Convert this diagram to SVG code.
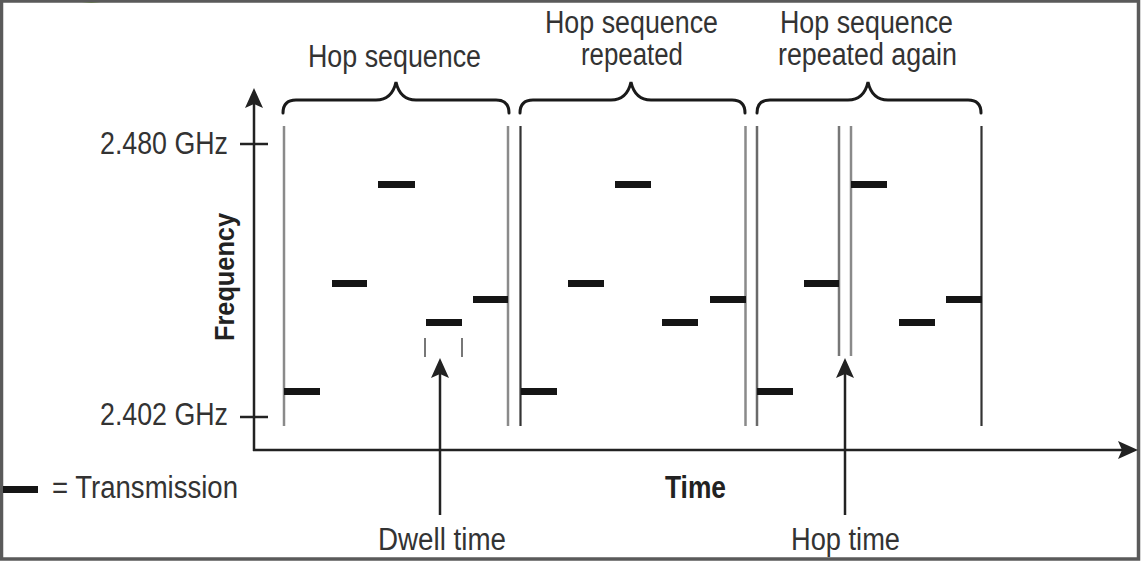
<svg xmlns="http://www.w3.org/2000/svg" width="1141" height="562" viewBox="0 0 1141 562">
<style>
.t{font-family:"Liberation Sans",Arial,sans-serif;font-size:31px;fill:#333}
.b{font-weight:bold;fill:#222}
.bar{fill:#151515}
.brace{fill:none;stroke:#1a1a1a;stroke-width:3;stroke-linecap:round}
.ax{stroke:#222;stroke-width:2.5;fill:none}
.g{stroke:#8a8a8a;stroke-width:2.5}
.d{stroke:#333;stroke-width:2.2}
.dash{stroke:#777;stroke-width:2}
</style>
<defs>
<marker id="ah" viewBox="0 0 20 18" refX="10" refY="9" markerWidth="20" markerHeight="18" markerUnits="userSpaceOnUse" orient="auto">
<path d="M0,0 L20,9 L0,18 L4,9 z" fill="#222"/>
</marker>
</defs>
<rect x="0" y="0" width="1141" height="562" fill="#fff"/>
<path d="M74,0 Q91,6 109,0 z" fill="#8dc63f"/>
<rect x="1.5" y="1" width="1137" height="558" fill="none" stroke="#5a5a5a" stroke-width="3.5"/>

<g id="connectors">
<line class="ax" x1="254" y1="451" x2="254" y2="98" marker-end="url(#ah)"/>
<line class="ax" x1="253" y1="450" x2="1128" y2="450" marker-end="url(#ah)"/>
<line class="ax" x1="240" y1="144" x2="268" y2="144"/>
<line class="ax" x1="240" y1="417" x2="268" y2="417"/>
<line class="ax" x1="440" y1="515" x2="440" y2="368" marker-end="url(#ah)"/>
<line class="ax" x1="845" y1="515" x2="845" y2="368" marker-end="url(#ah)"/>
</g>

<g id="axis-labels">
<text class="t" x="100" y="154" textLength="128" lengthAdjust="spacingAndGlyphs">2.480 GHz</text>
<text class="t" x="100" y="425" textLength="128" lengthAdjust="spacingAndGlyphs">2.402 GHz</text>
<text class="t b" style="font-size:27px" transform="translate(234,341) rotate(-90)" textLength="128" lengthAdjust="spacingAndGlyphs">Frequency</text>
<text class="t b" x="665" y="498" textLength="61" lengthAdjust="spacingAndGlyphs">Time</text>
</g>

<g id="legend">
<rect class="bar" x="3" y="486" width="35" height="7"/>
<text class="t" x="52" y="498" textLength="186" lengthAdjust="spacingAndGlyphs">= Transmission</text>
</g>

<g id="hop-sequence-1">
<text class="t" x="308" y="67" textLength="173" lengthAdjust="spacingAndGlyphs">Hop sequence</text>
<path class="brace" d="M283,113 Q283,100 296,100 L376,100 Q392,100 396,82 Q400,100 416,100 L496,100 Q509,100 509,113"/>
<line class="g" x1="284" y1="126" x2="284" y2="426"/>
<line class="g" x1="508" y1="126" x2="508" y2="426"/>
<rect class="bar" x="284" y="388" width="36" height="7"/>
<rect class="bar" x="332" y="280" width="35" height="7"/>
<rect class="bar" x="378" y="181" width="37" height="7"/>
<rect class="bar" x="426" y="319" width="36" height="7"/>
<rect class="bar" x="473" y="296" width="35" height="7"/>
</g>

<g id="dwell-time">
<line class="dash" x1="425" y1="338" x2="425" y2="357"/>
<line class="dash" x1="462" y1="338" x2="462" y2="357"/>
<text class="t" x="378" y="550" textLength="128" lengthAdjust="spacingAndGlyphs">Dwell time</text>
</g>

<g id="hop-sequence-2">
<text class="t" x="545" y="33" textLength="173" lengthAdjust="spacingAndGlyphs">Hop sequence</text>
<text class="t" x="581" y="65" textLength="102" lengthAdjust="spacingAndGlyphs">repeated</text>
<path class="brace" d="M520,113 Q520,100 533,100 L611,100 Q627,100 631,82 Q635,100 651,100 L732,100 Q745,100 745,113"/>
<line class="d" x1="520.5" y1="126" x2="520.5" y2="426"/>
<line class="g" x1="745.5" y1="126" x2="745.5" y2="426"/>
<rect class="bar" x="521" y="388" width="36" height="7"/>
<rect class="bar" x="568" y="280" width="36" height="7"/>
<rect class="bar" x="615" y="181" width="36" height="7"/>
<rect class="bar" x="662" y="319" width="36" height="7"/>
<rect class="bar" x="710" y="296" width="36" height="7"/>
</g>

<g id="hop-sequence-3">
<text class="t" x="780" y="33" textLength="173" lengthAdjust="spacingAndGlyphs">Hop sequence</text>
<text class="t" x="778" y="65" textLength="179" lengthAdjust="spacingAndGlyphs">repeated again</text>
<path class="brace" d="M757,113 Q757,100 770,100 L848,100 Q864,100 868,82 Q872,100 888,100 L968,100 Q981,100 981,113"/>
<line class="g" x1="757" y1="126" x2="757" y2="426" style="stroke:#6a6a6a"/>
<line class="g" x1="839" y1="126" x2="839" y2="356" style="stroke:#777"/>
<line class="g" x1="851" y1="126" x2="851" y2="356"/>
<line class="d" x1="981.5" y1="126" x2="981.5" y2="426"/>
<rect class="bar" x="757" y="388" width="36" height="7"/>
<rect class="bar" x="804" y="280" width="35" height="7"/>
<rect class="bar" x="851" y="181" width="36" height="7"/>
<rect class="bar" x="899" y="319" width="36" height="7"/>
<rect class="bar" x="946" y="296" width="36" height="7"/>
</g>

<g id="hop-time">
<text class="t" x="791" y="550" textLength="109" lengthAdjust="spacingAndGlyphs">Hop time</text>
</g>
</svg>
